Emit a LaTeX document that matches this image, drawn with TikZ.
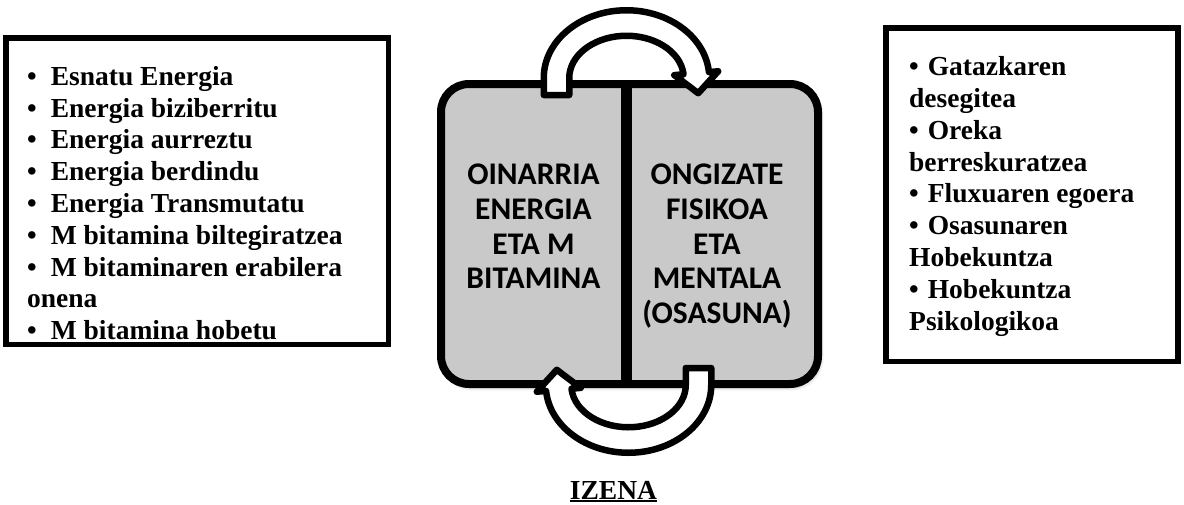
\documentclass[tikz,border=0pt]{standalone}
\usepackage{fontspec}
\setmainfont{Liberation Serif}
\newfontfamily\panelfont{Carlito}
\usetikzlibrary{calc,shadows.blur}
\definecolor{panelgray}{HTML}{C9C9C9}

\newsavebox{\ulinebox}
\newcommand{\thickuline}[1]{%
  \sbox{\ulinebox}{#1}\rlap{\rule[-3.4pt]{\wd\ulinebox}{2.4pt}}\usebox{\ulinebox}}

% half-elliptic band with a leg at its start and a head at its end
\tikzset{
  cyclearrowshape/.pic={
    \draw[cyclearrow]
      (-82.75,17) -- (-82.75,0)
      arc[start angle=180,end angle=355,x radius=82.75,y radius=67.75]
      -- (355:92 and 77) -- ($(355:70 and 55)+(2,20)$) -- (355:48 and 33)
      -- (355:57.25 and 42.25)
      arc[start angle=355,end angle=180,x radius=57.25,y radius=42.25]
      -- (-57.25,17) -- cycle;
  }
}

\begin{document}
\begin{tikzpicture}[x=1pt,y=-1pt,
  listbox/.style={draw=black, line width=5.5pt, fill=white},
  listtext/.style={anchor=north west, align=left, inner sep=0pt,
    font=\fontsize{27.5}{31.8}\selectfont\bfseries},
  panel/.style={draw=black, line width=8pt, fill=panelgray, rounded corners=28pt,
    blur shadow={shadow xshift=2pt, shadow yshift=-3pt, shadow blur radius=4pt, shadow opacity=35}},
  paneltext/.style={anchor=north, align=center, inner sep=0pt,
    font=\panelfont\bfseries\fontsize{31.5}{34.7}\selectfont},
  cyclearrow/.style={draw=black, line width=6.5pt, fill=white, line join=round},
]
\useasboundingbox (0,0) rectangle (1184,504);

% frames of the two lists
\draw[listbox] (5.75,37.75) rectangle (388.25,344.25);
\draw[listbox] (885.75,27.75) rectangle (1178,361.25);

\node[listtext] (energy) at (27,66) {%
\textbullet\hspace{14pt}Esnatu Energia\\
\textbullet\hspace{14pt}Energia biziberritu\\
\textbullet\hspace{14pt}Energia aurreztu\\
\textbullet\hspace{14pt}Energia berdindu\\
\textbullet\hspace{14pt}Energia Transmutatu\\
\textbullet\hspace{14pt}M bitamina biltegiratzea\\
\textbullet\hspace{14pt}M bitaminaren erabilera\\
onena\\
\textbullet\hspace{14pt}M bitamina hobetu};

\node[listtext] (wellbeing) at (909,56.5) {%
\textbullet\hspace{9pt}Gatazkaren\\
desegitea\\
\textbullet\hspace{9pt}Oreka\\
berreskuratzea\\
\textbullet\hspace{9pt}Fluxuaren egoera\\
\textbullet\hspace{9pt}Osasunaren\\
Hobekuntza\\
\textbullet\hspace{9pt}Hobekuntza\\
Psikologikoa};

% central panel split in two halves
\draw[panel] (441,84) rectangle (818,384);
\draw[line width=11pt] (626,84) -- (626,384);

\node[paneltext] (base) at (533.5,164) {OINARRIA\\ENERGIA\\ETA M\\BITAMINA};
\node[paneltext] (health) at (717,164) {ONGIZATE\\FISIKOA\\ETA\\MENTALA\\(OSASUNA)};

% circular arrows linking the halves
\pic at (626.5,78) {cyclearrowshape};
\pic[rotate=180] at (628.5,385) {cyclearrowshape};

\node[anchor=base, inner sep=0pt, font=\fontsize{27.5}{30}\selectfont\bfseries] (name) at (613.5,499) {\thickuline{IZENA}};
\end{tikzpicture}
\end{document}
